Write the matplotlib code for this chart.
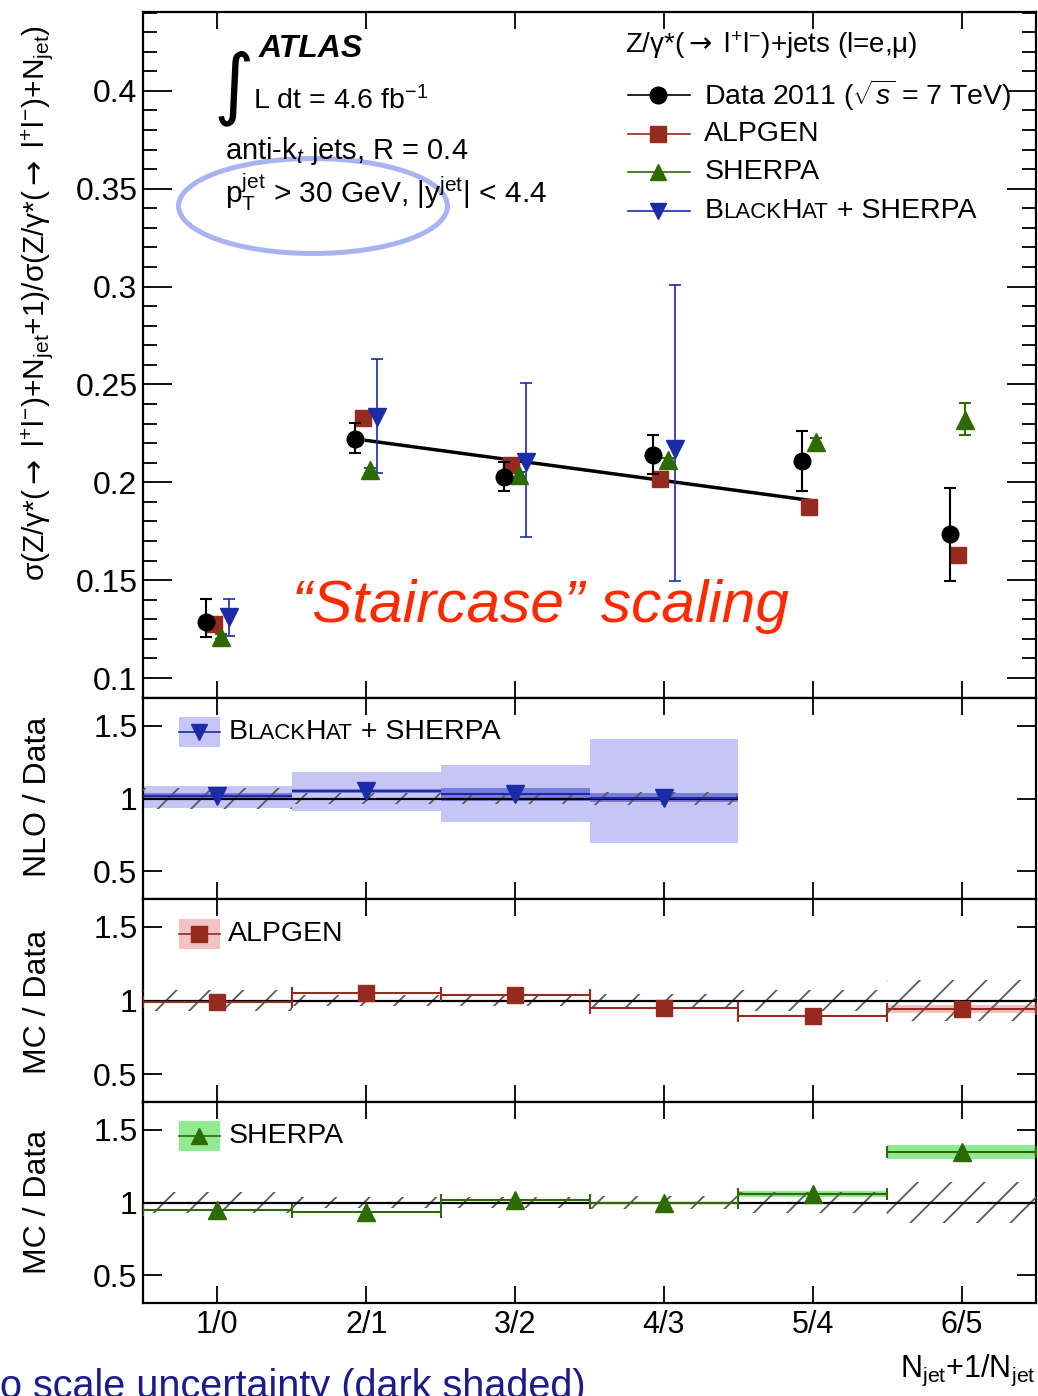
"""
Z+jets staircase scaling plot (ATLAS style) with ratio panels.
"""

import matplotlib
matplotlib.use("Agg")
import matplotlib.pyplot as plt
import numpy as np
from matplotlib.lines import Line2D
from matplotlib.patches import Ellipse, Rectangle
from matplotlib.ticker import FuncFormatter, MultipleLocator
from matplotlib.offsetbox import (AnchoredOffsetbox, DrawingArea, HPacker,
                                  TextArea, VPacker)

W, H = 1038, 1396
FONT = "Liberation Sans"

plt.rcParams["font.family"] = [FONT, "DejaVu Sans"]
plt.rcParams["mathtext.fontset"] = "custom"
plt.rcParams["mathtext.rm"] = FONT
plt.rcParams["mathtext.it"] = FONT + ":italic"
plt.rcParams["mathtext.bf"] = FONT + ":bold"
plt.rcParams["mathtext.sf"] = "DejaVu Sans"
plt.rcParams["hatch.linewidth"] = 1.3

COLORS = {
    "data": "black",
    "alpgen": "#952a1e",
    "sherpa": "#2d6a02",
    "bh": "#1a2ca6",
    "alpgen_band": "#f3c2c2",
    "sherpa_band": "#90ea90",
    "bh_band": "#c6c6f6",
    "bh_dark": "#6a6ad8",
    "hatch": "#5a5a5a",
}

# ---- data ----
bins = ["1/0", "2/1", "3/2", "4/3", "5/4", "6/5"]

data_val = [0.1286, 0.2223, 0.2027, 0.2141, 0.2109, 0.1735]
data_hi = [0.1404, 0.2303, 0.2104, 0.2240, 0.2260, 0.1973]
data_lo = [0.1212, 0.2150, 0.1956, 0.2044, 0.1956, 0.1495]

alpgen_val = [0.1276, 0.2330, 0.2087, 0.2019, 0.1874, 0.1628]

sherpa_val = [0.1211, 0.2061, 0.2039, 0.2112, 0.2206, 0.2316]
sherpa_hi = [0.1225, 0.2075, 0.2052, 0.2126, 0.2225, 0.2405]
sherpa_lo = [0.1198, 0.2048, 0.2026, 0.2098, 0.2187, 0.2240]

bh_val = [0.1313, 0.2333, 0.2104, 0.2172]
bh_hi = [0.1402, 0.2628, 0.2507, 0.3010]
bh_lo = [0.1214, 0.2049, 0.1721, 0.1495]

fit_x = [2, 5]
fit_y = [0.2214, 0.1906]

# ratio panels
data_rel_err = [0.072, 0.036, 0.036, 0.046, 0.072, 0.138]

bh_ratio = [1.02, 1.05, 1.03, 1.005]
bh_tot_lo = [0.932, 0.916, 0.837, 0.695]
bh_tot_hi = [1.086, 1.185, 1.233, 1.407]
bh_scale_lo = [1.0, 1.035, 0.985, 0.975]
bh_scale_hi = [1.04, 1.065, 1.07, 1.04]

alpgen_ratio = [0.99, 1.052, 1.034, 0.95, 0.893, 0.94]
alpgen_err = [0.006, 0.006, 0.006, 0.006, 0.006, 0.028]

sherpa_ratio = [0.95, 0.935, 1.016, 0.998, 1.057, 1.348]
sherpa_err = [0.005, 0.005, 0.005, 0.005, 0.022, 0.048]


def px(x, y):
    """Pixel position in the image -> figure fraction."""
    return x / W, 1 - y / H


def style_axes(ax, ylen, xlen=12):
    for s in ax.spines.values():
        s.set_linewidth(1.6)
    ax.tick_params(which="both", direction="in", top=True, right=True,
                   width=1.3, labelsize=23, pad=4)
    ax.tick_params(axis="y", which="major", length=ylen)
    ax.tick_params(axis="x", which="major", length=xlen)
    ax.set_xlim(0.5, 6.5)
    ax.set_xticks(range(1, 7))


def text_row(parts, size):
    return HPacker(children=[TextArea(t, textprops=dict(size=size * s, family=FONT))
                             for t, s in parts], align="baseline", pad=0, sep=0)


BH_PARTS = [("B", 1), ("LACK", 0.78), ("H", 1), ("AT", 0.78), (" + SHERPA", 1)]
ZLL = "Z/\u03b3*($\\mathsf{\\rightarrow}$ l$^{+}$l$^{-}$)"

fig = plt.figure(figsize=(W / 100, H / 100), dpi=100)
ax = fig.add_axes([143 / W, 1 - 698 / H, 893 / W, 686 / H])
r1 = fig.add_axes([143 / W, 1 - 899 / H, 893 / W, 201 / H])
r2 = fig.add_axes([143 / W, 1 - 1102 / H, 893 / W, 203 / H])
r3 = fig.add_axes([143 / W, 1 - 1303 / H, 893 / W, 201 / H])

x = np.arange(1, 7)
xb = np.arange(1, 5)

# ---- main panel ----
style_axes(ax, ylen=21)
ax.tick_params(axis="y", which="minor", length=10)
ax.set_ylim(0.0898, 0.4403)
ax.set_yticks([0.1, 0.15, 0.2, 0.25, 0.3, 0.35, 0.4])
ax.yaxis.set_minor_locator(MultipleLocator(0.01))
ax.yaxis.set_major_formatter(FuncFormatter(lambda v, _: f"{v:g}"))
ax.tick_params(axis="x", labelbottom=False)

ax.plot(fit_x, fit_y, color="black", lw=2.5, zorder=2)

dv = np.array(data_val)
ax.errorbar(x - 0.075, dv, yerr=[dv - data_lo, np.array(data_hi) - dv],
            fmt="o", color=COLORS["data"], ms=12, elinewidth=1.5, capsize=4,
            capthick=1.5, zorder=5)
ax.plot(x - 0.025, alpgen_val, "s", color=COLORS["alpgen"], ms=12, zorder=4)
sv = np.array(sherpa_val)
ax.errorbar(x + 0.025, sv, yerr=[sv - sherpa_lo, np.array(sherpa_hi) - sv],
            fmt="^", color=COLORS["sherpa"], ms=13, elinewidth=1.5, capsize=4,
            capthick=1.5, zorder=4)
bv = np.array(bh_val)
ax.errorbar(xb + 0.075, bv, yerr=[bv - bh_lo, np.array(bh_hi) - bv],
            fmt="v", color=COLORS["bh"], ms=13, elinewidth=1.2, capsize=4,
            capthick=1.2, zorder=4)

# legend (built by hand because of the small caps)
rows = []
for color, marker, ms, parts in [
        (COLORS["data"], "o", 12, [(r"Data 2011 ($\sqrt{s}$ = 7 TeV)", 1)]),
        (COLORS["alpgen"], "s", 11, [("ALPGEN", 1)]),
        (COLORS["sherpa"], "^", 12, [("SHERPA", 1)]),
        (COLORS["bh"], "v", 12, BH_PARTS)]:
    da = DrawingArea(55, 27.7, 0, 0)
    da.add_artist(Line2D([0, 44.6], [13.85, 13.85], color=color, lw=1.2))
    da.add_artist(Line2D([21.6], [13.85], marker=marker, color=color, ms=ms, ls="none"))
    rows.append(HPacker(children=[da, text_row(parts, 20.5)], align="center", pad=0, sep=0))
leg = AnchoredOffsetbox(loc="upper left", child=VPacker(children=rows, align="left", pad=0, sep=0),
                        pad=0, borderpad=0, frameon=False,
                        bbox_to_anchor=px(628, 76), bbox_transform=fig.transFigure)
ax.add_artist(leg)

fig.text(*px(625, 53), ZLL + "+jets (l=e,\u03bc)",
         fontsize=20, va="baseline", ha="left")
fig.text(*px(259, 57), "ATLAS", fontsize=23, fontweight="bold", fontstyle="italic",
         va="baseline", ha="left")
fig.text(*px(234, 88), "\u222b", fontsize=56, va="center", ha="center",
         family=["DejaVu Sans", FONT])
fig.text(*px(253, 109), r"L dt = 4.6 fb$^{-1}$", fontsize=20.5, va="baseline")
fig.text(*px(225, 159), r"anti-k$_{t}$ jets, R = 0.4", fontsize=21, va="baseline")
fig.text(*px(225, 203), r"p$_{\mathrm{T}}^{\mathrm{jet}}$ > 30 GeV, |y$^{\mathrm{jet}}$| < 4.4",
         fontsize=21.5, va="baseline")

fig.text(*px(38, 303),
         "\u03c3(" + ZLL + "+N$_{\\mathrm{jet}}$+1)/\u03c3(" + ZLL + "+N$_{\\mathrm{jet}}$)",
         fontsize=21.5, rotation=90, ha="center", va="center")

fig.text(*px(540, 607), "\u201cStaircase\u201d scaling", fontsize=43.5, fontstyle="italic",
         color="#ff2a00", ha="center", va="center")

fig.add_artist(Ellipse(px(313, 206), 269 / W, 95 / H, transform=fig.transFigure,
                       fill=False, edgecolor="#a8b4f0", lw=3.6))

# ---- ratio panels ----
edges = np.arange(0.5, 7.5)


def ratio_base(r, ylabel, ycenter, nbins):
    style_axes(r, ylen=14)
    r.set_ylim(0.31, 1.69)
    r.set_yticks([0.5, 1, 1.5])
    r.yaxis.set_major_formatter(FuncFormatter(lambda v, _: f"{v:g}"))
    r.tick_params(axis="x", labelbottom=False)
    err = np.array(data_rel_err[:nbins])
    r.stairs(1 + err, edges[:nbins + 1], baseline=1 - err, fill=True, facecolor="none",
             edgecolor=COLORS["hatch"], hatch="/", linewidth=0, zorder=3)
    r.hlines(1, 0.5, nbins + 0.5, color="black", lw=1.6, zorder=4)
    fig.text(*px(38, ycenter), ylabel, fontsize=23, rotation=90, ha="center", va="center")


def ratio_legend(r, top, color, band, marker, parts):
    da = DrawingArea(29.5, 21.6, 0, 0)
    da.add_artist(Rectangle((0, 0), 29.5, 21.6, facecolor=band, edgecolor="none"))
    da.add_artist(Line2D([0, 29.5], [10.8, 10.8], color=color, lw=1.2))
    da.add_artist(Line2D([14.75], [10.8], marker=marker, color=color, ms=11, ls="none"))
    box = HPacker(children=[da, text_row(parts, 20.5)], align="center", pad=0, sep=6)
    r.add_artist(AnchoredOffsetbox(loc="upper left", child=box, pad=0, borderpad=0,
                                   frameon=False, bbox_to_anchor=px(179, top),
                                   bbox_transform=fig.transFigure))


# NLO / Data
ratio_base(r1, "NLO / Data", 797, 4)
r1.stairs(bh_tot_hi, edges[:5], baseline=bh_tot_lo, fill=True,
          color=COLORS["bh_band"], zorder=1)
r1.stairs(bh_scale_hi, edges[:5], baseline=bh_scale_lo, fill=True,
          color=COLORS["bh_dark"], alpha=0.8, zorder=2)
r1.errorbar(xb, bh_ratio, xerr=0.5, fmt="v", color=COLORS["bh"], ms=13,
            elinewidth=1.5, capsize=0, zorder=5)
ratio_legend(r1, 717, COLORS["bh"], COLORS["bh_band"], "v", BH_PARTS)

# ALPGEN / Data
ratio_base(r2, "MC / Data", 1002, 6)
ar = np.array(alpgen_ratio)
r2.stairs(ar + alpgen_err, edges, baseline=ar - alpgen_err, fill=True,
          color=COLORS["alpgen_band"], zorder=1)
r2.errorbar(x, ar, xerr=0.5, fmt="s", color=COLORS["alpgen"], ms=12,
            elinewidth=1.5, capsize=4, capthick=1.5, zorder=5)
ratio_legend(r2, 919, COLORS["alpgen"], COLORS["alpgen_band"], "s", [("ALPGEN", 1)])

# SHERPA / Data
ratio_base(r3, "MC / Data", 1202, 6)
sr = np.array(sherpa_ratio)
r3.stairs(sr + sherpa_err, edges, baseline=sr - sherpa_err, fill=True,
          color=COLORS["sherpa_band"], zorder=1)
r3.errorbar(x, sr, xerr=0.5, fmt="^", color=COLORS["sherpa"], ms=13,
            elinewidth=1.5, capsize=4, capthick=1.5, zorder=5)
ratio_legend(r3, 1121, COLORS["sherpa"], COLORS["sherpa_band"], "^", [("SHERPA", 1)])
r3.tick_params(axis="x", labelbottom=True, labelsize=22, pad=5)
r3.set_xticklabels(bins)

fig.text(*px(1036, 1377), r"N$_{\mathrm{jet}}$+1/N$_{\mathrm{jet}}$", fontsize=22,
         ha="right", va="baseline")

fig.text(*px(0, 1368), "o scale uncertainty (dark shaded)", fontsize=28.5,
         color="#1b1b8c", ha="left", va="top")

fig.savefig("out.png", dpi=100)
